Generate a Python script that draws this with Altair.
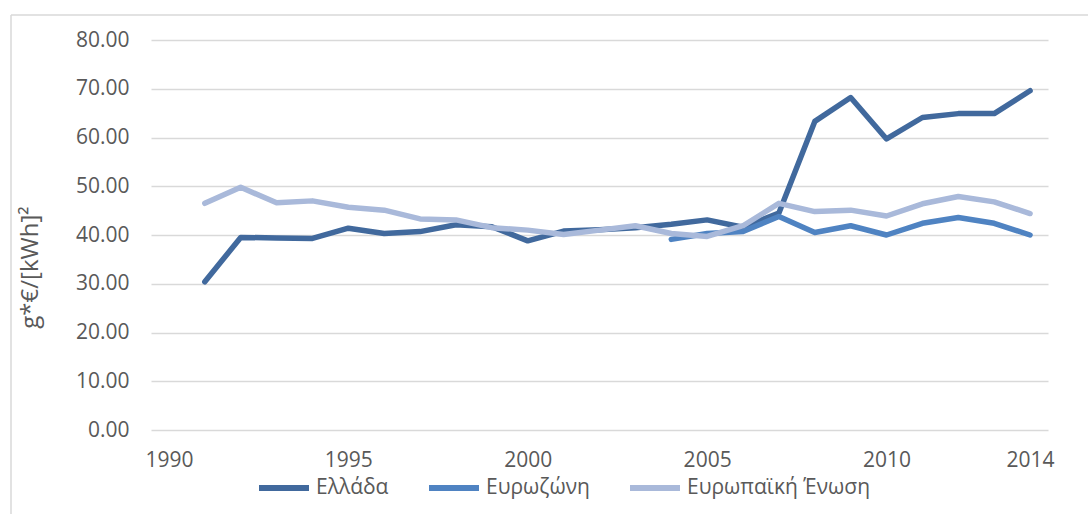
import altair as alt
import pandas as pd

years = list(range(1991, 2015))
greece = [30.4, 39.5, 39.4, 39.3, 41.4, 40.3, 40.7, 42.1, 41.7, 38.8, 40.8, 41.1,
          41.5, 42.2, 43.1, 41.6, 44.5, 63.3, 68.2, 59.7, 64.1, 64.9, 64.9, 69.6]
eurozone = [None] * 13 + [39.1, 40.3, 40.7, 43.8, 40.5, 41.9, 40.0, 42.4, 43.6, 42.4, 40.0]
eu = [46.5, 49.8, 46.6, 47.0, 45.7, 45.1, 43.3, 43.1, 41.5, 41.0, 40.1, 41.0,
      41.9, 40.3, 39.7, 41.9, 46.5, 44.8, 45.1, 43.9, 46.4, 47.9, 46.8, 44.4]
series_names = ["Ελλάδα", "Ευρωζώνη", "Ευρωπαϊκή Ένωση"]
series_colors = ["#41699D", "#4F83C2", "#A9B9DA"]
x_ticks = [1990, 1995, 2000, 2005, 2010, 2014]
y_ticks = [0, 10, 20, 30, 40, 50, 60, 70, 80]

rows = []
for name, vals in zip(series_names, [greece, eurozone, eu]):
    for yr, v in zip(years, vals):
        if v is not None:
            rows.append({"year": yr, "value": v, "series": name})
df = pd.DataFrame(rows)

FONT = "Open Sans"
GREY = "#595959"

lines = alt.Chart(df).mark_line(strokeWidth=5.5, strokeCap="round", strokeJoin="round").encode(
    x=alt.X("year:Q",
            scale=alt.Scale(domain=[1989.5, 2014.5], nice=False, zero=False),
            axis=alt.Axis(values=x_ticks, format="d", title=None, grid=False,
                          domain=False, ticks=False, labelFontSize=21,
                          labelColor=GREY, labelFont=FONT, labelPadding=19)),
    y=alt.Y("value:Q",
            scale=alt.Scale(domain=[0, 80], nice=False),
            axis=alt.Axis(values=y_ticks, format=".2f", title="g*€/[kWh]²",
                          domain=False, ticks=False, gridColor="#D9D9D9", gridWidth=1.5,
                          labelFontSize=21, labelColor=GREY, labelFont=FONT,
                          labelPadding=22, titleFont=FONT, titleFontSize=24,
                          titleColor=GREY, titleFontWeight="normal",
                          titleAngle=270, titleAlign="center", titleBaseline="middle",
                          titleX=-121, titleY=227)),
    color=alt.Color("series:N",
                    scale=alt.Scale(domain=series_names, range=series_colors),
                    legend=alt.Legend(title=None, orient="none", direction="horizontal",
                                      legendX=105, legendY=420,
                                      symbolType="stroke", symbolSize=2500,
                                      symbolStrokeWidth=6, labelFontSize=21,
                                      labelFont=FONT, labelColor=GREY, labelOffset=4,
                                      labelLimit=400, columnPadding=28)),
)

border_df = pd.DataFrame({"k": [0]})
border_top = alt.Chart(border_df).mark_rule(color="#D9D9D9", strokeWidth=1.5).encode(
    x=alt.value(-140), x2=alt.value(960), y=alt.value(-25))
border_left = alt.Chart(border_df).mark_rule(color="#D9D9D9", strokeWidth=1.5).encode(
    x=alt.value(-140), y=alt.value(-25), y2=alt.value(500))

chart = alt.layer(border_top, border_left, lines).properties(
    width=897, height=390,
    padding={"left": 151, "top": 40, "right": 40, "bottom": 84},
    autosize=alt.AutoSizeParams(type="none"),
    background="white",
).configure_view(stroke=None)

chart.save("out.html", embed_options={"renderer": "svg", "actions": False})
